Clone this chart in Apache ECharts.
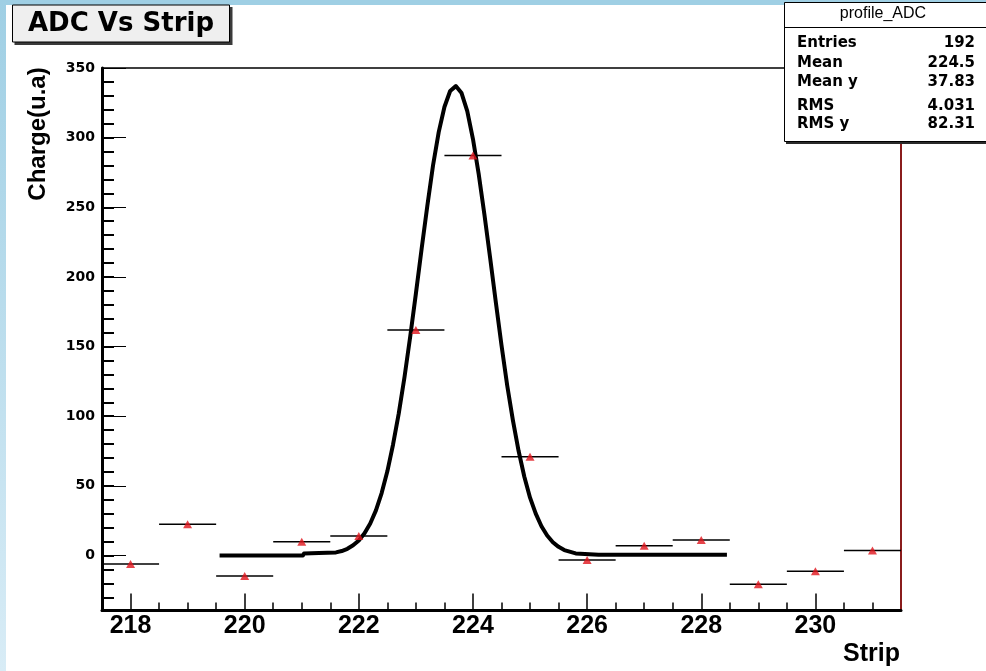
<!DOCTYPE html>
<html>
<head>
<meta charset="utf-8">
<title>ADC Vs Strip</title>
<script src="https://cdn.jsdelivr.net/npm/echarts@6/dist/echarts.min.js"></script>
<style>
  html, body { margin: 0; padding: 0; background: #ffffff; }
  #chart { width: 986px; height: 671px; }
</style>
</head>
<body>
<div id="chart"></div>
<script>
// Strip profile: mean ADC charge per strip (bin width 1)
const strips = [218, 219, 220, 221, 222, 223, 224, 225, 226, 227, 228, 229, 230, 231];
const charge = [-6.1, 22.4, -14.7, 9.9, 14.0, 161.9, 287.2, 70.8, -3.2, 7.0, 11.1, -20.7, -11.4, 3.5];
const binWidth = 1;

// Gaussian fit curve, sampled
const fitStrip = [219.56, 221.02, 221.04, 221.3, 221.6, 221.7, 221.8, 221.9, 222.0, 222.1,
  222.2, 222.3, 222.4, 222.5, 222.6, 222.7, 222.8, 222.9, 223.0, 223.1,
  223.2, 223.3, 223.4, 223.5, 223.6, 223.7, 223.8, 223.9, 224.0, 224.1,
  224.2, 224.3, 224.4, 224.5, 224.6, 224.7, 224.8, 224.9, 225.0, 225.1,
  225.2, 225.3, 225.4, 225.5, 225.6, 225.8, 226.2, 228.45];
const fitCharge = [0, 0, 1.5, 1.7, 2.2, 3.2, 4.8, 7.3, 10.8, 15.9,
  23, 32.4, 44.8, 60.4, 79.7, 102, 128, 157, 188, 220,
  251, 280, 304, 322, 333.5, 337, 332, 319, 299, 274,
  245, 214, 182, 151, 122, 97, 75, 56.5, 41.5, 30,
  21, 14.3, 9.5, 6.2, 3.9, 1.5, 0.5, 0.5];

// Axis ticks and labels
const xMajorTicks = [218, 220, 222, 224, 226, 228, 230];
const xMinorTicks = [218, 218.5, 219, 219.5, 220, 220.5, 221, 221.5, 222, 222.5, 223, 223.5,
  224, 224.5, 225, 225.5, 226, 226.5, 227, 227.5, 228, 228.5, 229, 229.5, 230, 230.5, 231];
const yMajorTicks = [0, 50, 100, 150, 200, 250, 300, 350];
const yMinorTicks = [-30, -20, -10, 0, 10, 20, 30, 40, 50, 60, 70, 80, 90, 100, 110, 120, 130,
  140, 150, 160, 170, 180, 190, 200, 210, 220, 230, 240, 250, 260, 270, 280, 290, 300,
  310, 320, 330, 340];

// Statistics box
const statsTitle = 'profile_ADC';
const statsNames = ['Entries', 'Mean', 'Mean y', 'RMS', 'RMS y'];
const statsValues = ['192', '224.5', '37.83', '4.031', '82.31'];

const X_MIN = 217.5, X_MAX = 231.5, Y_MIN = -39.5, Y_MAX = 350;
const gridRect = { left: 102, right: 85, top: 68, bottom: 60.5 };

const chart = echarts.init(document.getElementById('chart'), null, { renderer: 'canvas' });

const noAxisParts = { axisLabel: { show: false }, axisTick: { show: false }, splitLine: { show: false } };

const statsRowY = [43, 63, 82, 106, 124];
const statsGraphics = [];
statsNames.forEach((n, i) => {
  statsGraphics.push({
    type: 'text', x: 797, y: statsRowY[i],
    style: { text: n, fill: '#000', font: 'bold 15px "DejaVu Sans"', textAlign: 'left', textVerticalAlign: 'middle' }
  });
  statsGraphics.push({
    type: 'text', x: 975, y: statsRowY[i],
    style: { text: statsValues[i], fill: '#000', font: 'bold 15px "DejaVu Sans"', textAlign: 'right', textVerticalAlign: 'middle' }
  });
});

const option = {
  animation: false,
  backgroundColor: '#ffffff',
  grid: [
    Object.assign({ containLabel: false }, gridRect),
    Object.assign({ containLabel: false }, gridRect)
  ],
  xAxis: [
    { // main bottom axis: long ticks + labels
      type: 'value', gridIndex: 0, position: 'bottom', min: X_MIN, max: X_MAX,
      axisLine: { show: true, onZero: false, lineStyle: { color: '#000', width: 3 } },
      axisTick: { show: true, inside: true, length: 17, customValues: xMajorTicks, lineStyle: { color: '#000', width: 1.5 } },
      axisLabel: { show: true, customValues: xMajorTicks, margin: 3, color: '#000',
        fontFamily: '"Liberation Sans", Arial, sans-serif', fontWeight: 'bold', fontSize: 25 },
      splitLine: { show: false }
    },
    { // top frame line
      type: 'value', gridIndex: 0, position: 'top', min: X_MIN, max: X_MAX,
      axisLine: { show: true, onZero: false, lineStyle: { color: '#000', width: 1.5 } },
      ...noAxisParts
    },
    { // short ticks on the bottom axis
      type: 'value', gridIndex: 1, position: 'bottom', min: X_MIN, max: X_MAX,
      axisLine: { show: false, onZero: false },
      axisTick: { show: true, inside: true, length: 8, customValues: xMinorTicks, lineStyle: { color: '#000', width: 1.5 } },
      axisLabel: { show: false }, splitLine: { show: false }
    }
  ],
  yAxis: [
    { // main left axis: long ticks + labels
      type: 'value', gridIndex: 0, position: 'left', min: Y_MIN, max: Y_MAX,
      axisLine: { show: true, onZero: false, lineStyle: { color: '#000', width: 3 } },
      axisTick: { show: true, inside: true, length: 24, customValues: yMajorTicks, lineStyle: { color: '#000', width: 1 } },
      axisLabel: { show: true, customValues: yMajorTicks, margin: 7, color: '#000',
        fontFamily: '"DejaVu Sans", sans-serif', fontWeight: 'bold', fontSize: 14 },
      splitLine: { show: false }
    },
    { // right frame line
      type: 'value', gridIndex: 0, position: 'right', min: Y_MIN, max: Y_MAX,
      axisLine: { show: true, onZero: false, lineStyle: { color: '#8a1c1c', width: 2 } },
      ...noAxisParts
    },
    { // short ticks on the left axis
      type: 'value', gridIndex: 1, position: 'left', min: Y_MIN, max: Y_MAX,
      axisLine: { show: false, onZero: false },
      axisTick: { show: true, inside: true, length: 12, customValues: yMinorTicks, lineStyle: { color: '#000', width: 2 } },
      axisLabel: { show: false }, splitLine: { show: false }
    }
  ],
  series: [
    { // fitted curve
      type: 'line', xAxisIndex: 0, yAxisIndex: 0,
      data: fitStrip.map((x, i) => [x, fitCharge[i]]),
      showSymbol: false, symbol: 'none', smooth: false,
      lineStyle: { color: '#000', width: 4, join: 'round' }, z: 3
    },
    { // horizontal bin-width bars
      type: 'custom', xAxisIndex: 0, yAxisIndex: 0,
      data: strips.map((x, i) => [x, charge[i]]),
      renderItem: function (params, api) {
        const x = api.value(0), y = api.value(1);
        const p1 = api.coord([x - binWidth / 2, y]);
        const p2 = api.coord([x + binWidth / 2, y]);
        return {
          type: 'line',
          shape: { x1: p1[0], y1: p1[1], x2: p2[0], y2: p2[1] },
          style: { stroke: '#000', lineWidth: 1.5 }
        };
      },
      z: 4
    },
    { // bin means
      type: 'scatter', xAxisIndex: 0, yAxisIndex: 0,
      data: strips.map((x, i) => [x, charge[i]]),
      symbol: 'triangle', symbolSize: [9, 8],
      itemStyle: { color: '#e0141c' }, z: 5
    }
  ],
  graphic: [
    // light blue page border
    { type: 'rect', z: -10, shape: { x: 0, y: 0, width: 986, height: 5 }, style: { fill: '#9fcfe4' } },
    { type: 'rect', z: -10, shape: { x: 0, y: 0, width: 6, height: 671 },
      style: { fill: new echarts.graphic.LinearGradient(0, 0, 0, 1, [
        { offset: 0, color: '#9fcfe4' }, { offset: 1, color: '#d8ecf6' }]) } },
    // title box
    { type: 'rect', z: 100, shape: { x: 14.5, y: 7, width: 218, height: 38 }, style: { fill: '#3a3a3a' } },
    { type: 'rect', z: 101, shape: { x: 12.5, y: 5, width: 217, height: 37 },
      style: { fill: '#efefef', stroke: '#000', lineWidth: 1 } },
    { type: 'text', z: 102, x: 28, y: 24,
      style: { text: 'ADC Vs Strip', fill: '#000', font: 'bold 26px "DejaVu Sans"', textAlign: 'left', textVerticalAlign: 'middle' } },
    // statistics box
    { type: 'rect', z: 100, shape: { x: 786, y: 5, width: 210, height: 139 }, style: { fill: '#2a2a2a' } },
    { type: 'rect', z: 101, shape: { x: 784.5, y: 2.5, width: 210, height: 139 },
      style: { fill: '#ffffff', stroke: '#000', lineWidth: 1 } },
    { type: 'line', z: 102, shape: { x1: 784.5, y1: 27.5, x2: 986, y2: 27.5 }, style: { stroke: '#000', lineWidth: 1 } },
    { type: 'text', z: 102, x: 883, y: 14,
      style: { text: statsTitle, fill: '#000', font: '16px "Liberation Sans"', textAlign: 'center', textVerticalAlign: 'middle' } },
    { type: 'group', z: 102, children: statsGraphics.map(g => Object.assign({ z: 102 }, g)) },
    // axis titles
    { type: 'text', z: 50, x: 38, y: 134, rotation: Math.PI / 2,
      style: { text: 'Charge(u.a)', fill: '#000', font: 'bold 24px "Liberation Sans"', textAlign: 'center', textVerticalAlign: 'middle' } },
    { type: 'text', z: 50, x: 900, y: 654,
      style: { text: 'Strip', fill: '#000', font: 'bold 25px "Liberation Sans"', textAlign: 'right', textVerticalAlign: 'middle' } }
  ]
};

chart.setOption(option);
</script>
</body>
</html>
